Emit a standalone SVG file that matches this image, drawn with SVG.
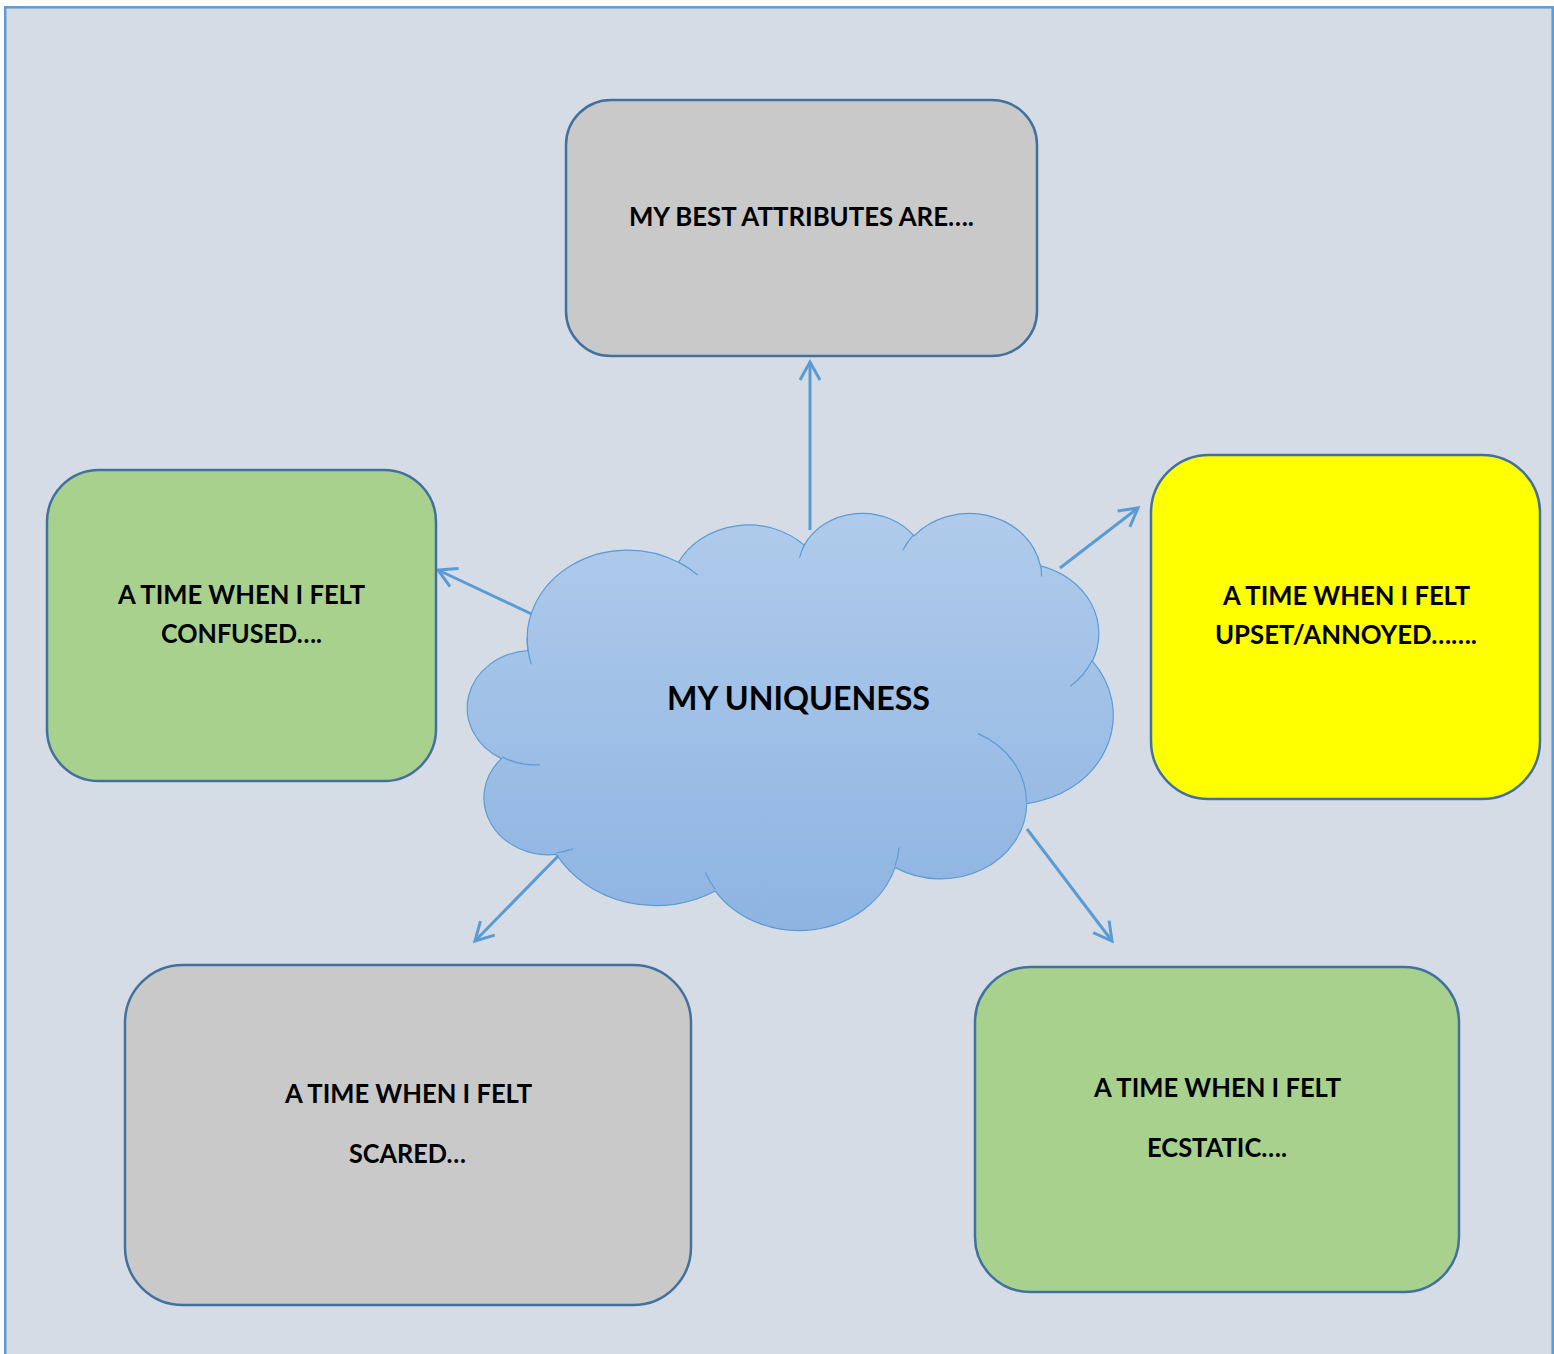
<svg xmlns="http://www.w3.org/2000/svg" width="1554" height="1354" viewBox="0 0 1554 1354">
  <defs>
    <linearGradient id="cloudGrad" x1="0" y1="0" x2="0" y2="1">
      <stop offset="0" stop-color="#b0cbeb"/>
      <stop offset="1" stop-color="#8eb4e2"/>
    </linearGradient>
    <marker id="ah" markerUnits="userSpaceOnUse" viewBox="-24 -14 28 28" markerWidth="28" markerHeight="28" refX="0" refY="0" orient="auto">
      <path d="M-18,-10 L0,0 L-18,10" fill="none" stroke="#5b9bd5" stroke-width="3"/>
    </marker>
  </defs>
  <style>
    .box { stroke: #41719c; stroke-width: 2.5; }
    .gray { fill: #c9c9c9; }
    .green { fill: #a9d18e; }
    .yellow { fill: #ffff00; }
    .lbl { font-family: "Lato", "Open Sans", "Liberation Sans", sans-serif; font-weight: bold; font-size: 26px; fill: #000000; }
    .big { font-size: 33px; }
    .conn { stroke: #5b9bd5; stroke-width: 3; fill: none; marker-end: url(#ah); }
    .cloud { fill: url(#cloudGrad); stroke: #5b9bd5; stroke-width: 1.2; }
    .cloudline { fill: none; stroke: #5b9bd5; stroke-width: 1.2; }
  </style>

  <rect x="5.2" y="7.3" width="1547.5" height="1400" fill="#d6dce5" stroke="#5b9bd5" stroke-width="2.5"/>

  <g id="connectors">
    <path class="conn" d="M810,530 L810,362"/>
    <path class="conn" d="M540,618 L438,570"/>
    <path class="conn" d="M1060,568 L1138,508"/>
    <path class="conn" d="M564,850 L475,941"/>
    <path class="conn" d="M1027,829 L1112,941"/>
  </g>

  <g id="node-attributes">
    <rect class="box gray" x="566" y="100" width="471" height="256" rx="45" ry="45"/>
    <text class="lbl" x="629" y="226" textLength="345" lengthAdjust="spacingAndGlyphs">MY BEST ATTRIBUTES ARE….</text>
  </g>

  <g id="node-confused">
    <rect class="box green" x="47" y="470" width="389" height="311" rx="52" ry="52"/>
    <text class="lbl" x="118" y="604" textLength="247" lengthAdjust="spacingAndGlyphs">A TIME WHEN I FELT</text>
    <text class="lbl" x="161" y="643" textLength="161" lengthAdjust="spacingAndGlyphs">CONFUSED….</text>
  </g>

  <g id="node-upset">
    <rect class="box yellow" x="1151" y="455" width="389" height="344" rx="58" ry="58"/>
    <text class="lbl" x="1223" y="605" textLength="247" lengthAdjust="spacingAndGlyphs">A TIME WHEN I FELT</text>
    <text class="lbl" x="1215" y="644" textLength="262" lengthAdjust="spacingAndGlyphs">UPSET/ANNOYED…….</text>
  </g>

  <g id="node-scared">
    <rect class="box gray" x="125" y="965" width="566" height="340" rx="58" ry="58"/>
    <text class="lbl" x="285" y="1103" textLength="247" lengthAdjust="spacingAndGlyphs">A TIME WHEN I FELT</text>
    <text class="lbl" x="349" y="1163" textLength="117" lengthAdjust="spacingAndGlyphs">SCARED…</text>
  </g>

  <g id="node-ecstatic">
    <rect class="box green" x="975" y="967" width="484" height="325" rx="55" ry="55"/>
    <text class="lbl" x="1094" y="1097" textLength="247" lengthAdjust="spacingAndGlyphs">A TIME WHEN I FELT</text>
    <text class="lbl" x="1147" y="1157" textLength="140" lengthAdjust="spacingAndGlyphs">ECSTATIC….</text>
  </g>

  <g id="node-uniqueness">
    <path class="cloud" d="M528.05,650.71 A100.51,88.71 0 0 1 678.45,562.22 A79.38,70.15 0 0 1 804.22,545.14 A64.97,57.39 0 0 1 914.02,535.95 A72.29,63.66 0 0 1 1040.32,565.83 A79.38,70.21 0 0 1 1092.41,661.23 A100.84,89.00 0 0 1 1026.72,803.55 A86.10,75.94 0 0 1 895.02,867.36 A100.50,88.95 0 0 1 715.30,891.04 A114.90,101.77 0 0 1 556.41,854.42 A64.89,57.13 0 0 1 501.46,758.64 A64.67,57.39 0 0 1 528.05,650.71 Z"/>
    <path class="cloudline" d="M539.85,764.69 A64.67,57.39 0 0 1 502.15,757.0 M573.12,848.88 A64.89,57.13 0 0 1 556.62,852.56 M715.26,889.34 A100.50,88.95 0 0 1 705.31,872.52 M899.06,847.45 A100.50,88.95 0 0 1 895.09,865.88 M977.98,733.58 A86.10,75.94 0 0 1 1026.37,802.45 M1092.12,660.21 A79.38,70.21 0 0 1 1070.56,686.05 M1040.41,564.38 A72.29,63.66 0 0 1 1041.55,576.58 M902.80,550.15 A72.29,63.66 0 0 1 913.84,534.59 M799.55,557.56 A64.97,57.39 0 0 1 804.89,544.15 M678.38,562.12 A100.51,88.71 0 0 1 697.72,575.13 M531.43,664.41 A100.51,88.71 0 0 1 527.37,636.89"/>
    <text class="lbl big" x="667" y="710" textLength="263" lengthAdjust="spacingAndGlyphs">MY UNIQUENESS</text>
  </g>
</svg>
